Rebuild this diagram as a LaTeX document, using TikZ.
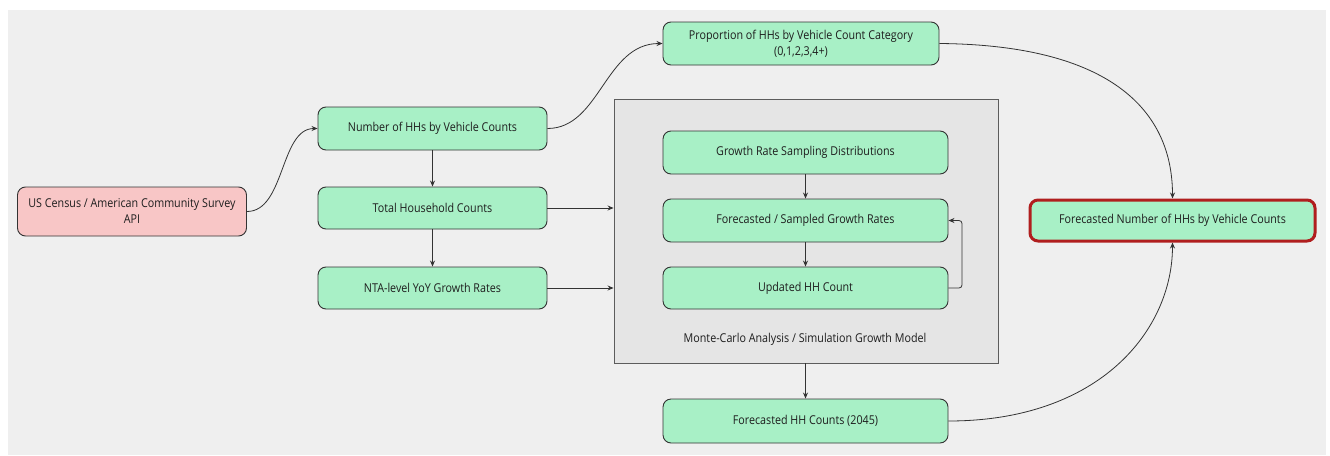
\documentclass[tikz,border=0pt]{standalone}
\usepackage{fontspec}
\setmainfont{Open Sans}[FakeStretch=0.88]
\usetikzlibrary{arrows.meta}
\definecolor{bgc}{HTML}{EFEFEF}
\definecolor{boxg}{HTML}{A8F0C6}
\definecolor{boxr}{HTML}{F8C6C6}
\definecolor{cont}{HTML}{E5E5E5}
\definecolor{edgec}{HTML}{333333}
\definecolor{txtc}{HTML}{1E1E1E}
\definecolor{redb}{HTML}{B01E1E}
\tikzset{
  every node/.style={font=\fontsize{12.2}{16}\selectfont, text=txtc},
  gbox/.style={draw=edgec, line width=0.9pt, fill=boxg, rounded corners=8pt, align=center, inner sep=0pt},
  rbox/.style={gbox, fill=boxr},
  finbox/.style={gbox, draw=redb, line width=3pt},
  contbox/.style={draw=edgec!80, line width=0.9pt, fill=cont, inner sep=0pt},
  conn/.style={draw=edgec, line width=0.8pt, -{Stealth[length=6pt,width=5pt]}},
}
\begin{document}
\begin{tikzpicture}[x=1pt,y=-1pt]
\useasboundingbox[fill=white] (0,0) rectangle (1330,455);
\fill[bgc] (8,10) rectangle (1326,455);

\node[contbox, minimum width=384pt, minimum height=264pt] (mc) at (806,231) {};
\node (mclabel) at (805,339) {Monte-Carlo Analysis / Simulation Growth Model};

\node[rbox, minimum width=229pt, minimum height=49pt] (census) at (132,211.5) {US Census / American Community Survey\\API};
\node[gbox, minimum width=229pt, minimum height=43pt] (num) at (432.5,128.5) {Number of HHs by Vehicle Counts};
\node[gbox, minimum width=229pt, minimum height=42pt] (total) at (432.5,208) {Total Household Counts};
\node[gbox, minimum width=229pt, minimum height=42pt] (nta) at (432.5,288) {NTA-level YoY Growth Rates};
\node[gbox, minimum width=276pt, minimum height=43pt] (prop) at (801,43.5) {Proportion of HHs by Vehicle Count Category\\(0,1,2,3,4+)};
\node[gbox, minimum width=285pt, minimum height=43pt] (grs) at (805.5,152.5) {Growth Rate Sampling Distributions};
\node[gbox, minimum width=285pt, minimum height=43pt] (fsg) at (805.5,220.5) {Forecasted / Sampled Growth Rates};
\node[gbox, minimum width=285pt, minimum height=42pt] (upd) at (805.5,288) {Updated HH Count};
\node[gbox, minimum width=285pt, minimum height=44pt] (fhc) at (805.5,421) {Forecasted HH Counts (2045)};
\node[finbox, minimum width=285pt, minimum height=41pt] (fin) at (1172.5,220.5) {Forecasted Number of HHs by Vehicle Counts};

\coordinate (loopA) at (962,288);
\coordinate (loopB) at (962,220.5);

\draw[conn] (census.east) .. controls (285,211.5) and (280,128.5) .. (num.west);
\draw[conn] (num.east) .. controls (600,128.5) and (605,43.5) .. (prop.west);
\draw[conn] (prop.east) .. controls (1110,45) and (1172.5,110) .. (fin.north);
\draw[conn] (fhc.east) .. controls (1100,421) and (1172.5,330) .. (fin.south);
\draw[conn] (num.south) -- (total.north);
\draw[conn] (total.south) -- (nta.north);
\draw[conn] (total.east) -- (mc.west |- total.east);
\draw[conn] (nta.east) -- (mc.west |- nta.east);
\draw[conn] (grs.south) -- (fsg.north);
\draw[conn] (fsg.south) -- (upd.north);
\draw[conn, rounded corners=3pt] (upd.east) -- (loopA) -- (loopB) -- (fsg.east);
\draw[conn] (mc.south -| fhc.north) -- (fhc.north);
\end{tikzpicture}
\end{document}
